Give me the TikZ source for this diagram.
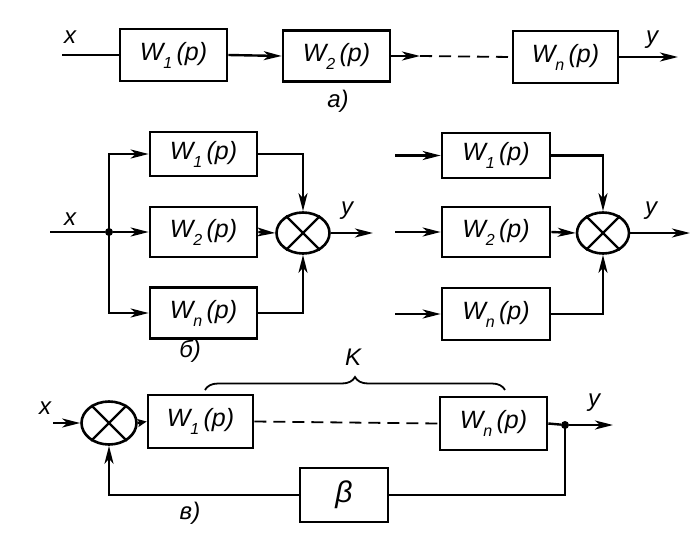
\documentclass[tikz,border=0pt]{standalone}
\usepackage{fontspec}
\setmainfont{Liberation Sans}
\usetikzlibrary{arrows.meta,shapes.geometric,decorations.pathreplacing}
\newcommand\lowsub[1]{\raisebox{-0.32em}{\fontsize{16}{16}\selectfont #1}}
\newcommand\tfn[1]{W\lowsub{#1}\,(p)}
\begin{document}
\begin{tikzpicture}[x=1pt,y=-1pt,
  blk/.style={draw,line width=2.6pt,inner sep=0pt,font=\fontsize{25}{25}\selectfont\itshape},
  sumn/.style={draw,ellipse,line width=2.6pt,minimum width=53pt,minimum height=41pt,inner sep=0pt},
  conn/.style={line width=2.4pt},
  arr/.style={conn,-{Stealth[length=18pt,width=9pt,inset=5pt]}},
  sarr/.style={conn,-{Stealth[length=9pt,width=8pt,inset=2pt]}},
  dsh/.style={line width=1.8pt,dash pattern=on 12pt off 7pt},
  dot/.style={circle,fill,inner sep=0pt,minimum size=8pt},
  lbl/.style={font=\fontsize{24}{24}\selectfont\itshape},
  capt/.style={font=\fontsize{24}{24}\selectfont\itshape}
]
\useasboundingbox (0,0) rectangle (696,552);
\fill[white] (0,0) rectangle (696,552);

% ---------- a) ----------
\node[blk,minimum width=107pt,minimum height=52pt] (a1) at (173.5,55) {\tfn{1}};
\node[blk,minimum width=107pt,minimum height=51pt] (a2) at (336.5,56) {\tfn{2}};
\node[blk,minimum width=105pt,minimum height=52pt] (an) at (565.5,57) {\tfn{n}};
\coordinate (ax) at (62,55);
\coordinate (ad) at (420,56);
\coordinate (ay) at (678,57);
\draw[conn] (ax) -- (a1.west);
\draw[arr] (a1.east) -- (a2.west);
\draw[arr] (a2.east) -- (ad);
\draw[dsh] (ad) -- (an.west);
\draw[arr] (an.east) -- (ay);
\node[lbl] (axl) at (70,37) {x};
\node[lbl] (ayl) at (652,40) {y};
\node[capt] (acap) at (338,101) {а)};

% ---------- b) left ----------
\node[blk,minimum width=107pt,minimum height=44pt] (b1) at (203.5,154) {\tfn{1}};
\node[blk,minimum width=107pt,minimum height=50pt] (b2) at (203.5,232) {\tfn{2}};
\node[blk,minimum width=107pt,minimum height=51pt] (bn) at (203.5,313) {\tfn{n}};
\node[sumn] (bs) at (303,233) {};
\draw[conn] (bs.45) -- (bs.225) (bs.135) -- (bs.315);
\coordinate (bx) at (50,232);
\node[dot] (bj) at (109,232) {};
\coordinate (by) at (373,233);
\draw[conn] (bx) -- (bj);
\draw[arr] (bj) -- (b2.west);
\draw[arr] (bj.center) |- (b1.west);
\draw[arr] (bj.center) |- (bn.west);
\draw[arr] (b2.east) -- (bs.west);
\draw[arr] (b1.east) -| (bs.north);
\draw[arr] (bn.east) -| (bs.south);
\draw[arr] (bs.east) -- (by);
\node[lbl] (bxl) at (70,219) {x};
\node[lbl] (byl) at (347,211) {y};
\node[capt] (bcap) at (190,351) {б)};

% ---------- b) right ----------
\node[blk,minimum width=108pt,minimum height=45pt] (c1) at (496,155.5) {\tfn{1}};
\node[blk,minimum width=108pt,minimum height=50pt] (c2) at (496,232) {\tfn{2}};
\node[blk,minimum width=108pt,minimum height=52pt] (cn) at (496,314) {\tfn{n}};
\node[sumn,minimum width=52pt] (cs) at (603,233) {};
\draw[conn] (cs.45) -- (cs.225) (cs.135) -- (cs.315);
\coordinate (cx1) at (395,155.5);
\coordinate (cx2) at (395,232);
\coordinate (cxn) at (395,314);
\coordinate (cy) at (690,233);
\draw[arr] (cx1) -- (c1.west);
\draw[arr] (cx2) -- (c2.west);
\draw[arr] (cxn) -- (cn.west);
\draw[arr] (c2.east) -- (cs.west);
\draw[arr] (c1.east) -| (cs.north);
\draw[arr] (cn.east) -| (cs.south);
\draw[arr] (cs.east) -- (cy);
\node[lbl] (cyl) at (651,211) {y};

% ---------- v) ----------
\node[sumn,minimum width=55pt,minimum height=43pt] (ds) at (109,423) {};
\draw[conn] (ds.45) -- (ds.225) (ds.135) -- (ds.315);
\node[blk,minimum width=105pt,minimum height=53pt] (d1) at (200.5,421.5) {\tfn{1}};
\node[blk,minimum width=107pt,minimum height=53pt] (dn) at (493.5,423.5) {\tfn{n}};
\node[blk,minimum width=88pt,minimum height=54pt,font=\fontsize{30}{30}\selectfont\itshape] (db) at (344,495) {β};
\coordinate (dx) at (53,423);
\node[dot] (dj) at (565,425) {};
\coordinate (dy) at (613,425);
\coordinate (dc) at (565,495);
\draw[arr] (dx) -- (ds.west);
\draw[sarr] (ds.east) -- (d1.west);
\draw[dsh] (d1.east) -- (dn.west);
\draw[conn] (dn.east) -- (dj);
\draw[arr] (dj) -- (dy);
\draw[conn] (dj.center) -- (dc) -- (db.east);
\draw[arr] (db.west) -| (ds.south);
\coordinate (k1) at (205,390);
\coordinate (k2) at (505,390);
\draw[line width=1.8pt,decorate,decoration={brace,amplitude=13pt}] (k1) -- (k2);
\node[lbl] (kl) at (353,357) {K};
\node[lbl] (dxl) at (45,408) {x};
\node[lbl] (dyl) at (594,403) {y};
\node[capt] (dcap) at (190,513) {в)};
\end{tikzpicture}
\end{document}
